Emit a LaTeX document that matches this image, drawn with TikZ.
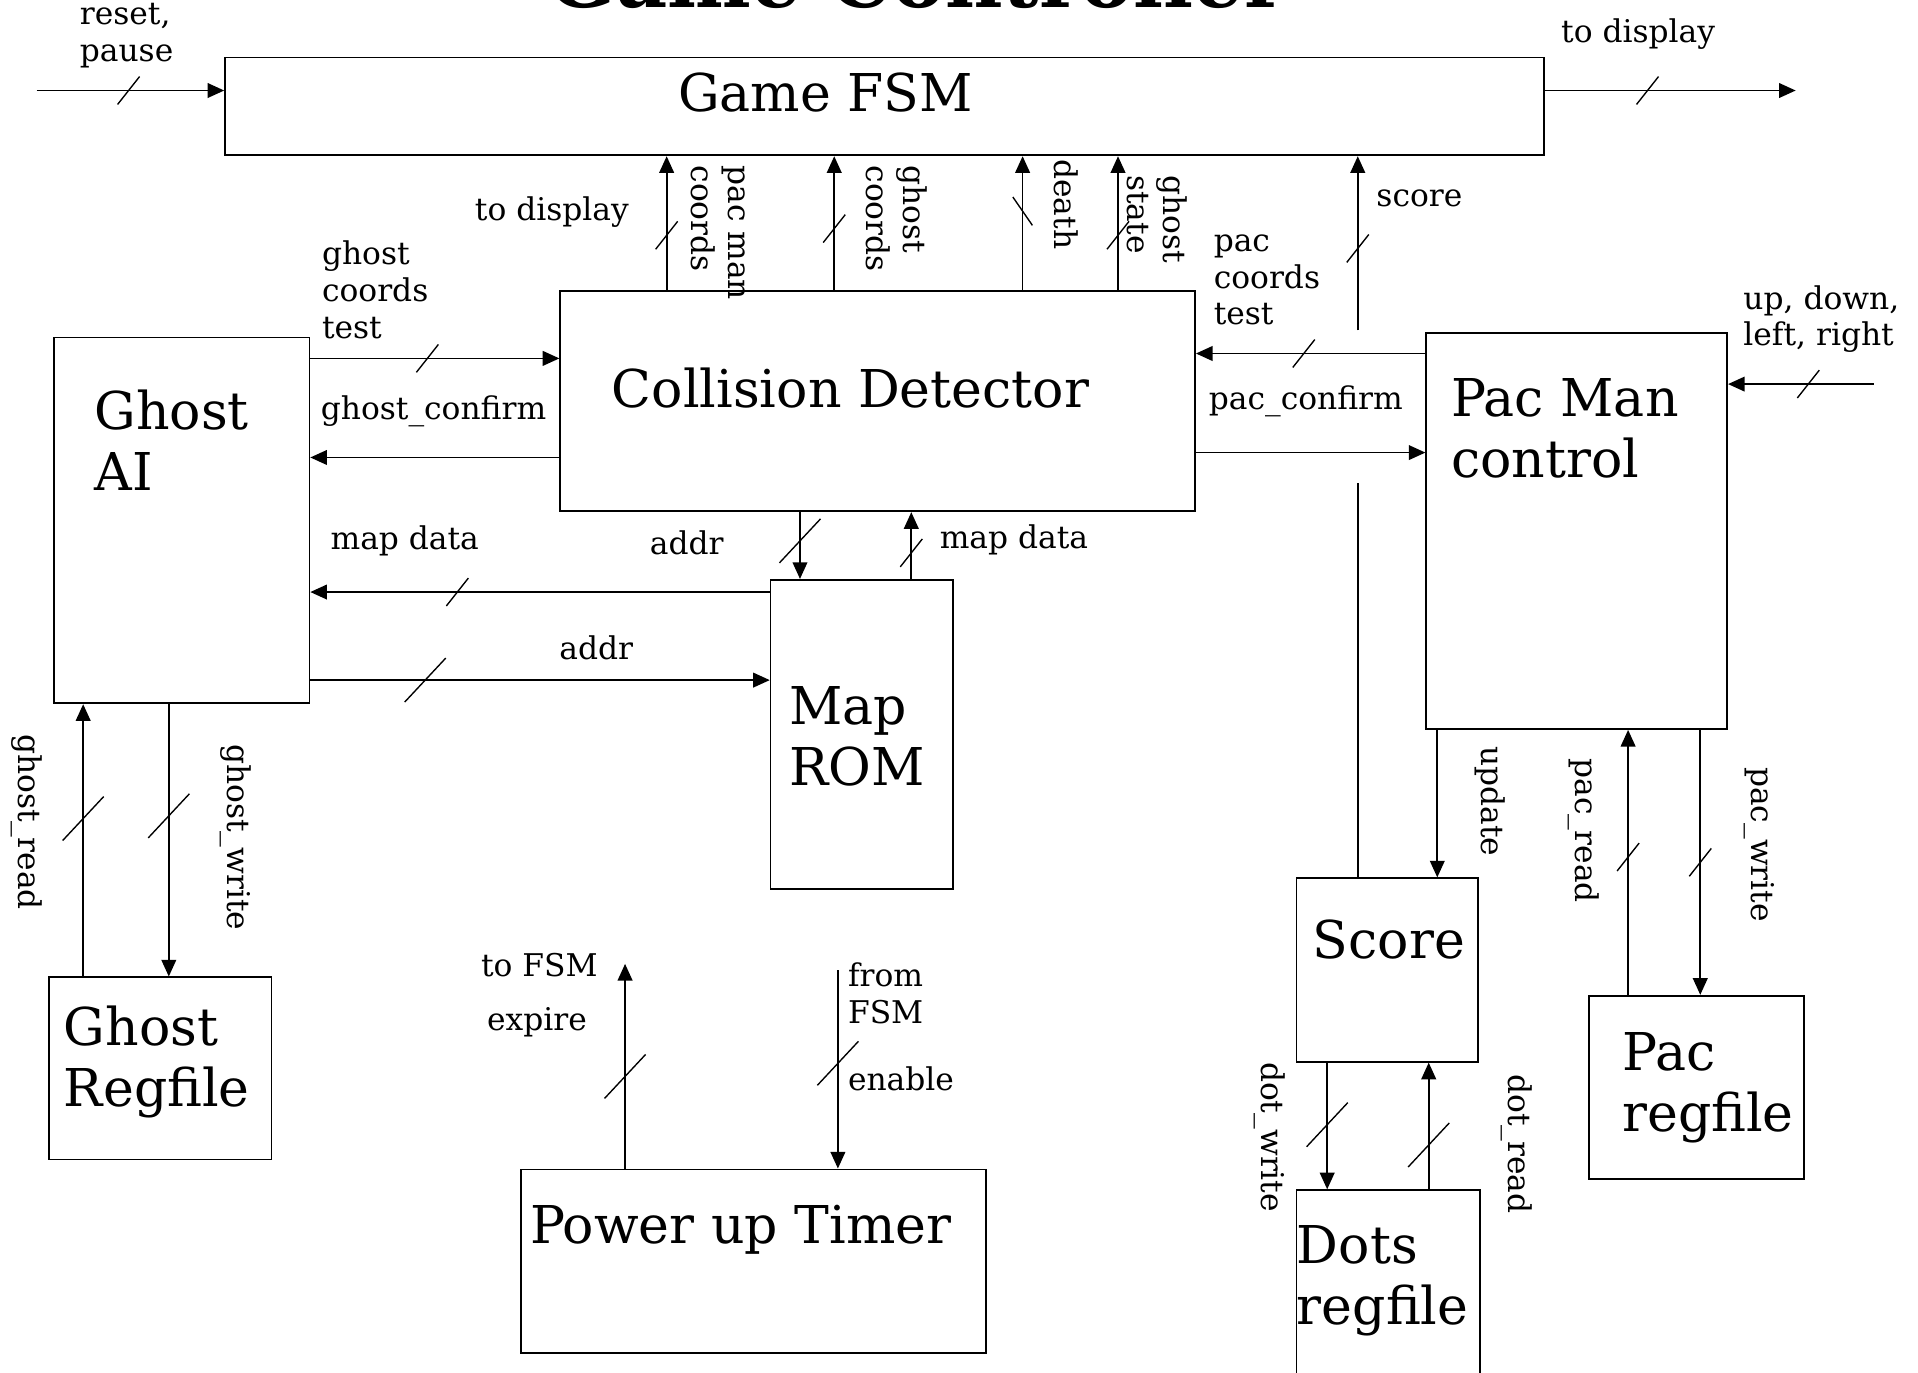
\documentclass[tikz,border=0pt]{standalone}
\usepackage{fontspec}
\setmainfont{DejaVu Serif}
\usetikzlibrary{arrows.meta,fit}
\newcommand\blkfont{\fontsize{30.3}{35.5}\selectfont}
\newcommand\sigfont{\fontsize{18.2}{21.3}\selectfont}
\tikzset{
  pics/bus/.style={code={\draw[-,line width=0.8pt] (-0.225cm,-0.285cm) -- (0.225cm,0.285cm);}},
  pics/bigbus/.style={code={\draw[-,line width=0.8pt] (-0.42cm,-0.45cm) -- (0.42cm,0.45cm);}},
  pics/backbus/.style={code={\draw[-,line width=0.8pt] (-0.2cm,0.29cm) -- (0.2cm,-0.29cm);}}
}
\begin{document}
\begin{tikzpicture}[x=0.025cm,y=-0.025cm]
	\tikzstyle{block}=[draw, line width=1pt, inner sep=0pt]
	\tikzstyle{blocktext}=[anchor=west, inner sep=0pt, align=left, font=\blkfont]
	\tikzstyle{sig}=[anchor=west, inner sep=0pt, align=left, font=\sigfont]
	\tikzstyle{vsig}=[sig, rotate=-90]
	\tikzstyle{wire}=[line width=1pt, -{Triangle[length=0.34cm,width=0.3cm]}]
	\useasboundingbox (0,0) rectangle (1568,1122);
	\clip (0,0) rectangle (1568,1122);

	\node[anchor=base, inner sep=0pt, font=\fontsize{46}{50}\selectfont\bfseries] (title) at (750,6) {Game Controller};

	\node[block, fit={(184,47) (1262,127)}] (fsm) {};
	\node[block, fit={(458,238) (977,418)}] (cd) {};
	\node[block, fit={(44,276) (253,575)}] (gai) {};
	\node[block, fit={(630,474) (779,727)}] (rom) {};
	\node[block, fit={(1166,272) (1412,596)}] (pmc) {};
	\node[block, fit={(1060,718) (1208,868)}] (score) {};
	\node[block, fit={(1299,814) (1475,964)}] (pacrf) {};
	\node[block, fit={(1060,973) (1210,1150)}] (dots) {};
	\node[block, fit={(40,799) (222,948)}] (grf) {};
	\node[block, fit={(426,956) (806,1106)}] (timer) {};

	\node[blocktext] (fsm-t) at (554,76) {Game FSM};
	\node[blocktext] (cd-t) at (500,317) {Collision Detector};
	\node[blocktext] (gai-t) at (77,360) {Ghost\\AI};
	\node[blocktext] (rom-t) at (645,602) {Map\\ROM};
	\node[blocktext] (pmc-t) at (1186,350) {Pac Man\\control};
	\node[blocktext] (score-t) at (1073,768) {Score};
	\node[blocktext] (pacrf-t) at (1326,889) {Pac\\regfile};
	\node[blocktext] (dots-t) at (1060,1047) {Dots\\regfile};
	\node[blocktext] (grf-t) at (52,868) {Ghost\\Regfile};
	\node[blocktext] (timer-t) at (433,1005) {Power up Timer};

	\coordinate (rst) at (30,74);
	\coordinate (disp) at (1468,74);
	\coordinate (udlr) at (1532,314);
	\coordinate (scoreA) at (1110,270);
	\coordinate (scoreB) at (1110,395);
	\coordinate (tofsm) at (511,788);
	\coordinate (fromfsm) at (685,793);

	\draw[wire] (rst) -- pic[pos=0.49]{bus} (fsm.west |- rst);
	\draw[wire] (fsm.east |- disp) -- pic[pos=0.41]{bus} (disp);
	\draw[wire] (545,0 |- cd.north) -- pic[pos=0.41]{bus} (545,0 |- fsm.south);
	\draw[wire] (682,0 |- cd.north) -- pic[pos=0.46]{bus} (682,0 |- fsm.south);
	\draw[wire] (836,0 |- cd.north) -- pic[pos=0.59]{backbus} (836,0 |- fsm.south);
	\draw[wire] (914,0 |- cd.north) -- pic[pos=0.41]{bus} (914,0 |- fsm.south);
	\draw[wire] (scoreA) -- pic[pos=0.47]{bus} (scoreA |- fsm.south);
	\draw[line width=1pt] (scoreB |- score.north) -- (scoreB);

	\draw[wire] (gai.east |- 0,293) -- pic[pos=0.47]{bus} (cd.west |- 0,293);
	\draw[wire] (cd.west |- 0,374) -- (gai.east |- 0,374);
	\draw[wire] (rom.west |- 0,484) -- pic[pos=0.68]{bus} (gai.east |- 0,484);
	\draw[wire] (gai.east |- 0,556) -- pic[pos=0.25]{bigbus} (rom.west |- 0,556);
	\draw[wire] (654,0 |- cd.south) -- pic[pos=0.43]{bigbus} (654,0 |- rom.north);
	\draw[wire] (745,0 |- rom.north) -- pic[pos=0.39]{bus} (745,0 |- cd.south);

	\draw[wire] (pmc.west |- 0,289) -- pic[pos=0.53]{bus} (cd.east |- 0,289);
	\draw[wire] (cd.east |- 0,370) -- (pmc.west |- 0,370);
	\draw[wire] (udlr) -- pic[pos=0.45]{bus} (pmc.east |- udlr);
	\draw[wire] (1175,0 |- pmc.south) -- (1175,0 |- score.north);
	\draw[wire] (1331,0 |- pacrf.north) -- pic[pos=0.52]{bus} (1331,0 |- pmc.south);
	\draw[wire] (1390,0 |- pmc.south) -- pic[pos=0.5]{bus} (1390,0 |- pacrf.north);
	\draw[wire] (1085,0 |- score.south) -- pic[pos=0.49]{bigbus} (1085,0 |- dots.north);
	\draw[wire] (1168,0 |- dots.north) -- pic[pos=0.35]{bigbus} (1168,0 |- score.south);

	\draw[wire] (68,0 |- grf.north) -- pic[pos=0.58]{bigbus} (68,0 |- gai.south);
	\draw[wire] (138,0 |- gai.south) -- pic[pos=0.41]{bigbus} (138,0 |- grf.north);
	\draw[wire] (tofsm |- timer.north) -- pic[pos=0.45]{bigbus} (tofsm);
	\draw[wire] (fromfsm) -- pic[pos=0.47]{bigbus} (fromfsm |- timer.north);

	\node[sig] (l-rst) at (65,29) {reset,\\pause};
	\node[sig] (l-disp) at (1276,28) {to display};
	\node[sig] (l-disp2) at (388,173) {to display};
	\node[vsig] (l-pcoords) at (587,135) {pac man\\coords};
	\node[vsig] (l-gcoords) at (733,135) {ghost\\coords};
	\node[vsig] (l-death) at (872,130) {death};
	\node[vsig] (l-gstate) at (946,143) {ghost\\state};
	\node[sig] (l-score) at (1125,162) {score};
	\node[sig] (l-gtest) at (263,237) {ghost\\coords\\test};
	\node[sig] (l-gconf) at (262,336) {ghost\_confirm};
	\node[sig] (l-map1) at (270,442) {map data};
	\node[sig] (l-addr1) at (457,530) {addr};
	\node[sig] (l-addr2) at (531,444) {addr};
	\node[sig] (l-map2) at (768,441) {map data};
	\node[sig] (l-ptest) at (992,229) {pac\\coords\\test};
	\node[sig] (l-pconf) at (988,328) {pac\_confirm};
	\node[sig] (l-udlr) at (1425,261) {up, down,\\left, right};
	\node[vsig] (l-update) at (1218,610) {update};
	\node[vsig] (l-pread) at (1295,620) {pac\_read};
	\node[vsig] (l-pwrite) at (1438,627) {pac\_write};
	\node[vsig] (l-dwrite) at (1038,868) {dot\_write};
	\node[vsig] (l-dread) at (1240,878) {dot\_read};
	\node[vsig] (l-gread) at (22,600) {ghost\_read};
	\node[vsig] (l-gwrite) at (193,608) {ghost\_write};
	\node[sig] (l-tofsm) at (393,789) {to FSM};
	\node[sig] (l-expire) at (398,836) {expire};
	\node[sig] (l-fromfsm) at (693,812) {from\\FSM};
	\node[sig] (l-enable) at (693,882) {enable};
\end{tikzpicture}
\end{document}
